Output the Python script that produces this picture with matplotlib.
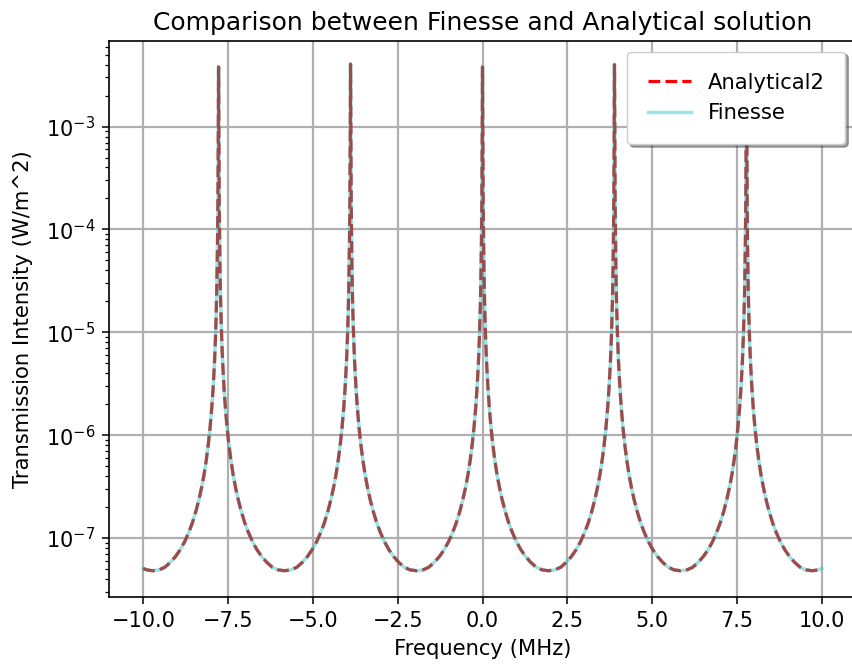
import matplotlib
matplotlib.use("Agg")
import matplotlib.pyplot as plt

# ---- data (five resonances, log-scale intensity) ----
frequency_mhz = [
    -10.0, -9.9, -9.725,
    # resonance near -7.78
    -9.53, -9.36, -9.20, -9.05, -8.91, -8.78, -8.66, -8.55, -8.45, -8.36, -8.28, -8.21, -8.14,
    -8.08, -8.03, -7.98, -7.94, -7.90, -7.87, -7.85, -7.835, -7.82, -7.81, -7.80, -7.79, -7.784,
    -7.78,
    -7.776, -7.77, -7.76, -7.75, -7.74, -7.725, -7.71, -7.69, -7.66, -7.62, -7.58, -7.53, -7.48,
    -7.42, -7.35, -7.28, -7.20, -7.11, -7.01, -6.90, -6.78, -6.65, -6.51, -6.36, -6.20, -6.03,
    -5.835,
    # resonance near -3.89
    -5.64, -5.47, -5.31, -5.16, -5.02, -4.89, -4.77, -4.66, -4.56, -4.47, -4.39, -4.32, -4.25,
    -4.19, -4.14, -4.09, -4.05, -4.01, -3.98, -3.96, -3.945, -3.93, -3.92, -3.91, -3.90, -3.894,
    -3.89,
    -3.886, -3.88, -3.87, -3.86, -3.85, -3.835, -3.82, -3.80, -3.77, -3.73, -3.69, -3.64, -3.59,
    -3.53, -3.46, -3.39, -3.31, -3.22, -3.12, -3.01, -2.89, -2.76, -2.62, -2.47, -2.31, -2.14,
    -1.945,
    # resonance near 0
    -1.75, -1.58, -1.42, -1.27, -1.13, -1.00, -0.88, -0.77, -0.67, -0.58, -0.50, -0.43, -0.36,
    -0.30, -0.25, -0.20, -0.16, -0.12, -0.09, -0.07, -0.055, -0.04, -0.03, -0.02, -0.01, -0.004,
    0.0,
    0.004, 0.01, 0.02, 0.03, 0.04, 0.055, 0.07, 0.09, 0.12, 0.16, 0.20, 0.25, 0.30,
    0.36, 0.43, 0.50, 0.58, 0.67, 0.77, 0.88, 1.00, 1.13, 1.27, 1.42, 1.58, 1.75,
    1.945,
    # resonance near 3.89
    2.14, 2.31, 2.47, 2.62, 2.76, 2.89, 3.01, 3.12, 3.22, 3.31, 3.39, 3.46, 3.53,
    3.59, 3.64, 3.69, 3.73, 3.77, 3.80, 3.82, 3.835, 3.85, 3.86, 3.87, 3.88, 3.886,
    3.89,
    3.894, 3.90, 3.91, 3.92, 3.93, 3.945, 3.96, 3.98, 4.01, 4.05, 4.09, 4.14, 4.19,
    4.25, 4.32, 4.39, 4.47, 4.56, 4.66, 4.77, 4.89, 5.02, 5.16, 5.31, 5.47, 5.64,
    5.835,
    # resonance near 7.78
    6.03, 6.20, 6.36, 6.51, 6.65, 6.78, 6.90, 7.01, 7.11, 7.20, 7.28, 7.35, 7.42,
    7.48, 7.53, 7.58, 7.62, 7.66, 7.69, 7.71, 7.725, 7.74, 7.75, 7.76, 7.77, 7.776,
    7.78,
    7.784, 7.79, 7.80, 7.81, 7.82, 7.835, 7.85, 7.87, 7.90, 7.94, 7.98, 8.03, 8.08,
    8.14, 8.21, 8.28, 8.36, 8.45, 8.55, 8.66, 8.78, 8.91, 9.05, 9.20, 9.36, 9.53,
    9.725, 9.9, 10.0,
]

intensity_finesse = [
    5.05e-8, 4.9e-8, 4.8e-8,
    # resonance near -7.78
    4.9e-8, 5.2e-8, 5.8e-8, 6.6e-8, 7.7e-8, 9.2e-8, 1.13e-7, 1.41e-7, 1.81e-7, 2.35e-7, 3.1e-7, 4.1e-7, 5.8e-7,
    8.3e-7, 1.19e-6, 1.86e-6, 2.9e-6, 5.1e-6, 9.1e-6, 1.5e-5, 2.4e-5, 4.6e-5, 8.0e-5, 1.76e-4, 6.2e-4, 2.1e-3,
    3.8e-3,
    2.1e-3, 6.2e-4, 1.76e-4, 8.0e-5, 4.6e-5, 2.4e-5, 1.5e-5, 9.1e-6, 5.1e-6, 2.9e-6, 1.86e-6, 1.19e-6, 8.3e-7,
    5.8e-7, 4.1e-7, 3.1e-7, 2.35e-7, 1.81e-7, 1.41e-7, 1.13e-7, 9.2e-8, 7.7e-8, 6.6e-8, 5.8e-8, 5.2e-8, 4.9e-8,
    4.8e-8,
    # resonance near -3.89
    4.9e-8, 5.2e-8, 5.8e-8, 6.6e-8, 7.7e-8, 9.2e-8, 1.13e-7, 1.41e-7, 1.81e-7, 2.35e-7, 3.1e-7, 4.1e-7, 5.8e-7,
    8.3e-7, 1.19e-6, 1.86e-6, 2.9e-6, 5.1e-6, 9.1e-6, 1.5e-5, 2.4e-5, 4.6e-5, 8.0e-5, 1.76e-4, 6.2e-4, 2.1e-3,
    4.05e-3,
    2.1e-3, 6.2e-4, 1.76e-4, 8.0e-5, 4.6e-5, 2.4e-5, 1.5e-5, 9.1e-6, 5.1e-6, 2.9e-6, 1.86e-6, 1.19e-6, 8.3e-7,
    5.8e-7, 4.1e-7, 3.1e-7, 2.35e-7, 1.81e-7, 1.41e-7, 1.13e-7, 9.2e-8, 7.7e-8, 6.6e-8, 5.8e-8, 5.2e-8, 4.9e-8,
    4.8e-8,
    # resonance near 0
    4.9e-8, 5.2e-8, 5.8e-8, 6.6e-8, 7.7e-8, 9.2e-8, 1.13e-7, 1.41e-7, 1.81e-7, 2.35e-7, 3.1e-7, 4.1e-7, 5.8e-7,
    8.3e-7, 1.19e-6, 1.86e-6, 2.9e-6, 5.1e-6, 9.1e-6, 1.5e-5, 2.4e-5, 4.6e-5, 8.0e-5, 1.76e-4, 6.2e-4, 2.1e-3,
    3.8e-3,
    2.1e-3, 6.2e-4, 1.76e-4, 8.0e-5, 4.6e-5, 2.4e-5, 1.5e-5, 9.1e-6, 5.1e-6, 2.9e-6, 1.86e-6, 1.19e-6, 8.3e-7,
    5.8e-7, 4.1e-7, 3.1e-7, 2.35e-7, 1.81e-7, 1.41e-7, 1.13e-7, 9.2e-8, 7.7e-8, 6.6e-8, 5.8e-8, 5.2e-8, 4.9e-8,
    4.8e-8,
    # resonance near 3.89
    4.9e-8, 5.2e-8, 5.8e-8, 6.6e-8, 7.7e-8, 9.2e-8, 1.13e-7, 1.41e-7, 1.81e-7, 2.35e-7, 3.1e-7, 4.1e-7, 5.8e-7,
    8.3e-7, 1.19e-6, 1.86e-6, 2.9e-6, 5.1e-6, 9.1e-6, 1.5e-5, 2.4e-5, 4.6e-5, 8.0e-5, 1.76e-4, 6.2e-4, 2.1e-3,
    4.0e-3,
    2.1e-3, 6.2e-4, 1.76e-4, 8.0e-5, 4.6e-5, 2.4e-5, 1.5e-5, 9.1e-6, 5.1e-6, 2.9e-6, 1.86e-6, 1.19e-6, 8.3e-7,
    5.8e-7, 4.1e-7, 3.1e-7, 2.35e-7, 1.81e-7, 1.41e-7, 1.13e-7, 9.2e-8, 7.7e-8, 6.6e-8, 5.8e-8, 5.2e-8, 4.9e-8,
    4.8e-8,
    # resonance near 7.78
    4.9e-8, 5.2e-8, 5.8e-8, 6.6e-8, 7.7e-8, 9.2e-8, 1.13e-7, 1.41e-7, 1.81e-7, 2.35e-7, 3.1e-7, 4.1e-7, 5.8e-7,
    8.3e-7, 1.19e-6, 1.86e-6, 2.9e-6, 5.1e-6, 9.1e-6, 1.5e-5, 2.4e-5, 4.6e-5, 8.0e-5, 1.76e-4, 6.2e-4, 2.1e-3,
    3.7e-3,
    2.1e-3, 6.2e-4, 1.76e-4, 8.0e-5, 4.6e-5, 2.4e-5, 1.5e-5, 9.1e-6, 5.1e-6, 2.9e-6, 1.86e-6, 1.19e-6, 8.3e-7,
    5.8e-7, 4.1e-7, 3.1e-7, 2.35e-7, 1.81e-7, 1.41e-7, 1.13e-7, 9.2e-8, 7.7e-8, 6.6e-8, 5.8e-8, 5.2e-8, 4.9e-8,
    4.8e-8, 4.9e-8, 5.05e-8,
]

intensity_analytical = list(intensity_finesse)

x_ticks = [-10.0, -7.5, -5.0, -2.5, 0.0, 2.5, 5.0, 7.5, 10.0]

title = "Comparison between Finesse and Analytical solution"
x_label = "Frequency (MHz)"
y_label = "Transmission Intensity (W/m^2)"

# ---- figure ----
fs = 15.2
fig = plt.figure(figsize=(8.52, 6.64), dpi=100)
ax = fig.add_axes([109 / 852, 1 - 597 / 664, (856 - 109) / 852, (597 - 41) / 664])

ax.plot(frequency_mhz, intensity_analytical, linestyle="--", color="red",
        linewidth=2.3, label="Analytical2", zorder=3)
ax.plot(frequency_mhz, intensity_finesse, linestyle="-", color="#00c0c0",
        alpha=0.4, linewidth=2.5, label="Finesse", zorder=4)

ax.set_yscale("log")
ax.set_xlim(-11.01, 11.01)
ax.set_ylim(10 ** -7.574, 10 ** -2.168)
ax.set_xticks(x_ticks)
ax.set_xticklabels([f"{t:.1f}".replace("-", "\u2212") for t in x_ticks])

ax.grid(True, which="major", color="#b0b0b0", linewidth=1.6)
ax.set_axisbelow(True)

for s in ax.spines.values():
    s.set_linewidth(1.2)

ax.tick_params(axis="both", which="major", labelsize=15, length=5, width=1.1, pad=5)
ax.tick_params(axis="y", which="minor", length=3, width=0.9)

ax.set_title(title, fontsize=18, pad=8)
ax.set_xlabel(x_label, fontsize=fs, labelpad=6)
ax.set_ylabel(y_label, fontsize=fs, labelpad=9)

leg = ax.legend(loc="upper right", fontsize=fs, shadow=True, fancybox=True,
                framealpha=1.0, borderpad=1.0, labelspacing=0.5)
leg.set_zorder(10)

fig.savefig("out.png", dpi=100)
